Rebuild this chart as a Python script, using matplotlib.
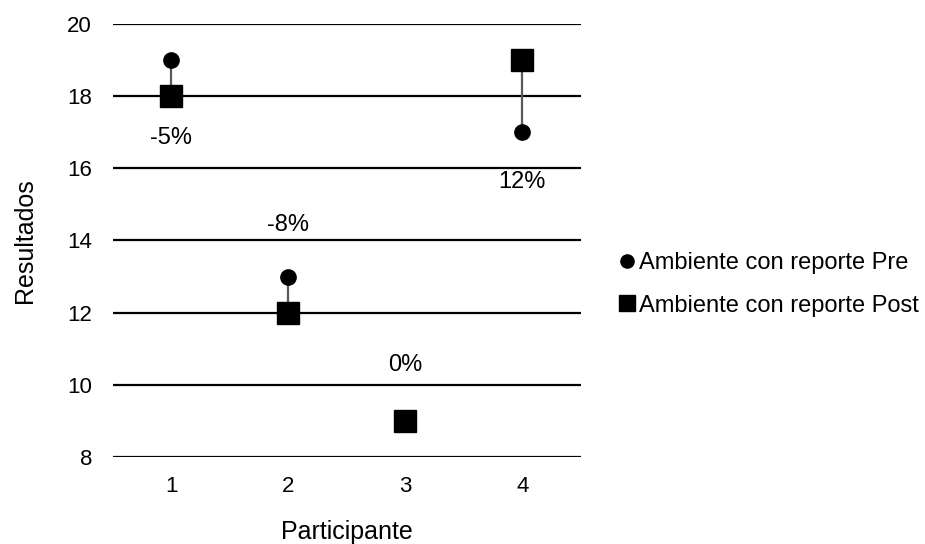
import matplotlib.pyplot as plt
from matplotlib.lines import Line2D

participantes = [1, 2, 3, 4]
pre = [19, 13, 9, 17]
post = [18, 12, 9, 19]
cambios = ['-5%', '-8%', '0%', '12%']

plt.rcParams['font.family'] = ['Liberation Sans', 'DejaVu Sans']

fig = plt.figure(figsize=(9.25, 5.44), dpi=100)
ax = fig.add_axes([0.122, 0.16, 0.506, 0.796])

# lineas entre pre y post
ax.vlines(participantes, [min(a, b) for a, b in zip(pre, post)],
          [max(a, b) for a, b in zip(pre, post)], color='#595959', lw=1.6, zorder=2)
ax.plot(participantes, pre, 'o', color='black', ms=11, ls='none', zorder=3)
ax.plot(participantes, post, 's', color='black', ms=16.5, ls='none', zorder=3)

# etiquetas de cambio: (sentido, desplazamiento en puntos)
posicion = [(-1, 30), (1, 37), (1, 40), (-1, 36)]
for x, a, b, txt, (sentido, d) in zip(participantes, pre, post, cambios, posicion):
    y = min(a, b) if sentido < 0 else max(a, b)
    ax.annotate(txt, (x, y), xytext=(0, sentido * d), textcoords='offset points',
                ha='center', va='center', fontsize=17)

ax.set_xlim(0.5, 4.5)
ax.set_ylim(8, 20)
ax.set_yticks(range(8, 21, 2))
ax.set_xticks(participantes)
ax.grid(axis='y', color='black', lw=1.6)
ax.set_axisbelow(True)
for s in ax.spines.values():
    s.set_visible(False)
ax.tick_params(length=0, labelsize=16, pad=14)
ax.tick_params(axis='y', pad=15)
ax.set_xlabel('Participante', fontsize=18, labelpad=16)
ax.set_ylabel('Resultados', fontsize=18, labelpad=22)

handles = [Line2D([], [], marker='o', color='black', ls='none', ms=9.5),
           Line2D([], [], marker='s', color='black', ls='none', ms=11)]
fig.legend(handles, ['Ambiente con reporte Pre', 'Ambiente con reporte Post'],
           loc='center left', bbox_to_anchor=(0.665, 0.477), frameon=False,
           fontsize=17, handletextpad=0.0, labelspacing=0.85, handlelength=1.0,
           borderpad=0, borderaxespad=0)

fig.savefig('out.png', dpi=100)
